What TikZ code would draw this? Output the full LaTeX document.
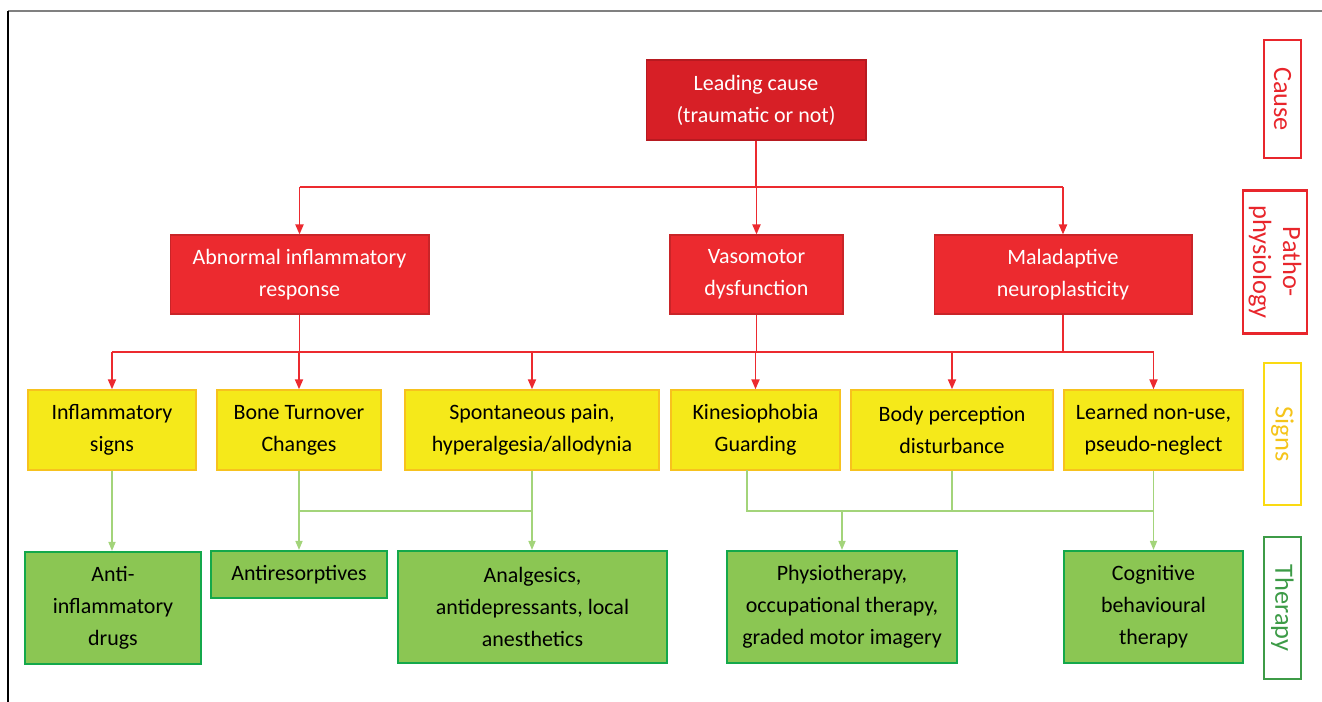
\documentclass[tikz,border=0pt]{standalone}
\usepackage{fontspec}
\setmainfont{Carlito}
\usepackage{tikz}
\usetikzlibrary{positioning, arrows.meta}

\definecolor{causered}{HTML}{D71F26}
\definecolor{boxred}{HTML}{EC2A2F}
\definecolor{boxyellow}{HTML}{F5E91A}
\definecolor{edgeyellow}{HTML}{F7C21E}
\definecolor{boxgreen}{HTML}{8BC653}
\definecolor{edgegreen}{HTML}{14A84B}
\definecolor{linegreen}{HTML}{A3D47A}
\definecolor{labelred}{HTML}{E8262C}
\definecolor{labelyellow}{HTML}{F5C41A}
\definecolor{labelgreen}{HTML}{3D9B47}

\begin{document}
\begin{tikzpicture}[x=0.02cm, y=-0.02cm,
        every node/.style={font=\fontsize{12.5}{18.2}\selectfont, align=center, inner sep=0pt},
        redbox/.style={draw=boxred!85!black, fill=boxred, text=white, line width=0.6pt, minimum height=1.58cm},
        signbox/.style={draw=edgeyellow, fill=boxyellow, line width=0.8pt, minimum height=1.6cm},
        therbox/.style={draw=edgegreen, fill=boxgreen, line width=1.2pt, minimum height=2.24cm},
        levelbox/.style={draw=#1, text=#1, line width=1.2pt, rotate=-90, minimum height=0.74cm,
            font=\fontsize{15}{17}\selectfont},
        redarrow/.style={draw=boxred, line width=1.1pt, -{Triangle[length=0.2cm, width=0.16cm]}},
        redline/.style={draw=boxred, line width=1.1pt},
        greenarrow/.style={draw=linegreen, line width=0.9pt, -{Triangle[length=0.18cm, width=0.14cm]}},
        greenline/.style={draw=linegreen, line width=0.9pt}]
    \useasboundingbox (0,0) rectangle (1322,702);
    % frame
    \draw[gray, line width=1.2pt] (8,11) -- (1322,11);
    \draw[black, line width=1pt] (8,11) -- (8,702);

    % cause and pathophysiology
    \node[redbox, fill=causered, draw=causered!85!black, minimum width=4.4cm, minimum height=1.6cm] (cause) at (756,100) {Leading cause\\(traumatic or not)};
    \node[redbox, minimum width=5.18cm] (infl) at (299.5,274.5) {Abnormal inflammatory\\response};
    \node[redbox, minimum width=3.46cm] (vaso) at (756.5,274.5) {Vasomotor\\dysfunction};
    \node[redbox, minimum width=5.16cm] (mala) at (1063,274.5) {Maladaptive\\neuroplasticity};

    % signs
    \node[signbox, minimum width=3.36cm] (sInfl) at (112,430) {Inflammatory\\signs};
    \node[signbox, minimum width=3.28cm] (sBone) at (299,430) {Bone Turnover\\Changes};
    \node[signbox, minimum width=5.08cm] (sPain) at (532,430) {Spontaneous pain,\\hyperalgesia/allodynia};
    \node[signbox, minimum width=3.38cm] (sKin) at (755.5,430) {Kinesiophobia\\Guarding};
    \node[signbox, minimum width=4.04cm] (sBody) at (952,430) {Body perception\\disturbance};
    \node[signbox, minimum width=3.58cm] (sLearn) at (1153.5,430) {Learned non-use,\\pseudo-neglect};

    % therapy
    \node[therbox, minimum width=3.52cm] (tAnti) at (113,608) {Anti-\\inflammatory\\drugs};
    \node[therbox, minimum width=3.52cm, minimum height=0.94cm] (tResorp) at (299,574.5) {Antiresorptives};
    \node[therbox, minimum width=5.38cm] (tAnalg) at (532.5,607) {Analgesics,\\antidepressants, local\\anesthetics};
    \node[therbox, minimum width=4.6cm] (tPhysio) at (842,607) {Physiotherapy,\\occupational therapy,\\graded motor imagery};
    \node[therbox, minimum width=3.58cm] (tCogn) at (1153.5,607) {Cognitive\\behavioural\\therapy};

    % level labels
    \node[levelbox=labelred, minimum width=2.36cm] (lCause) at (1282.5,99) {Cause};
    \node[levelbox=labelred, minimum width=2.86cm, minimum height=1.28cm] (lPatho) at (1275,262) {Patho-\\physiology};
    \node[levelbox=edgeyellow!60!yellow, text=labelyellow, minimum width=2.84cm] (lSigns) at (1282.5,434) {Signs};
    \node[levelbox=labelgreen, minimum width=2.84cm] (lTher) at (1282.5,608) {Therapy};

    % red connectors
    \coordinate (busA) at (756,187);
    \coordinate (busB) at (756,352);
    \draw[redline] (cause.south) -- (busA);
    \draw[redline] (infl.south |- busA) -- (mala.south |- busA);
    \foreach \n in {infl, vaso, mala}
        \draw[redarrow] (\n.north |- busA) -- (\n.north);
    \foreach \n in {infl, vaso, mala}
        \draw[redline] (\n.south) -- (\n.south |- busB);
    \draw[redline] (sInfl.north |- busB) -- (sLearn.north |- busB);
    \foreach \n in {sInfl, sBone, sPain, sKin, sBody, sLearn}
        \draw[redarrow] (\n.north |- busB) -- (\n.north);

    % green connectors
    \coordinate (busC) at (0,511);
    \coordinate (kinOut) at (747,470);
    \draw[greenarrow] (sInfl.south) -- (sInfl.south |- tAnti.north);
    \draw[greenarrow] (sBone.south) -- (tResorp.north);
    \draw[greenline] (sBone.south |- busC) -- (sPain.south |- busC);
    \draw[greenarrow] (sPain.south) -- (sPain.south |- tAnalg.north);
    \draw[greenline] (kinOut) -- (kinOut |- busC) -- (sLearn.south |- busC);
    \draw[greenline] (sBody.south) -- (sBody.south |- busC);
    \draw[greenarrow] (tPhysio.north |- busC) -- (tPhysio.north);
    \draw[greenarrow] (sLearn.south) -- (sLearn.south |- tCogn.north);
\end{tikzpicture}
\end{document}
